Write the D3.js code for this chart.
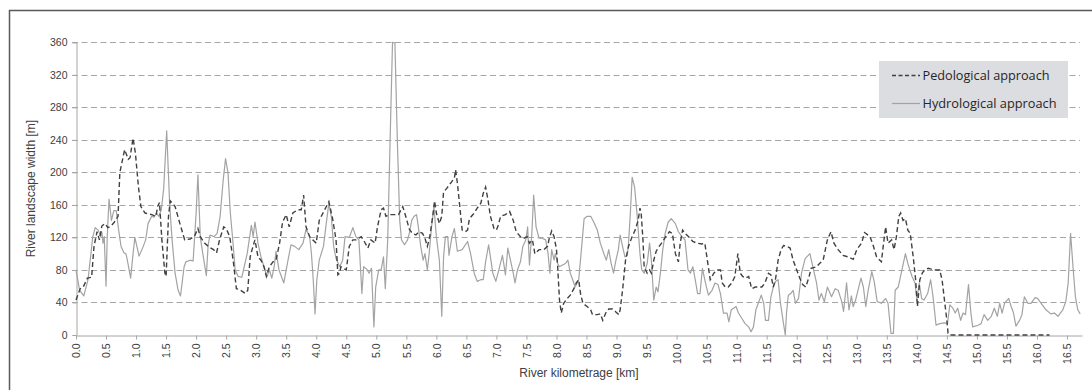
<!DOCTYPE html>
<html><head><meta charset="utf-8">
<script src="https://cdn.jsdelivr.net/npm/d3@7"></script>
<style>body{margin:0;background:#fff}svg{display:block}</style>
</head><body>
<svg id="c" width="1092" height="390"></svg>
<script>
// ---- data (km, width in m) ----
const xTicks = [0.0,0.5,1.0,1.5,2.0,2.5,3.0,3.5,4.0,4.5,5.0,5.5,6.0,6.5,7.0,7.5,8.0,8.5,9.0,9.5,10.0,10.5,11.0,11.5,12.0,12.5,13.0,13.5,14.0,14.5,15.0,15.5,16.0,16.5];
const yTicks = [0,40,80,120,160,200,240,280,320,360];
const seriesNames = ["Pedological approach","Hydrological approach"];

const pedological = [[0,43],[0.07,57],[0.12,59],[0.19,70],[0.26,71],[0.3,109],[0.35,127],[0.39,117],[0.43,134],[0.48,137],[0.53,132],[0.58,134],[0.63,138],[0.7,146],[0.73,200],[0.81,228],[0.87,216],[0.9,218],[0.92,228],[0.95,242],[0.99,223],[1.04,182],[1.08,158],[1.15,150],[1.26,148],[1.33,146],[1.36,158],[1.39,163],[1.43,117],[1.48,76],[1.5,72],[1.54,146],[1.57,165],[1.65,158],[1.73,137],[1.81,117],[1.9,118],[1.97,121],[2.03,131],[2.07,121],[2.14,113],[2.22,108],[2.29,105],[2.34,101],[2.39,117],[2.46,133],[2.5,131],[2.56,121],[2.62,90],[2.67,57],[2.72,56],[2.82,51],[2.86,55],[2.9,96],[2.95,110],[2.98,117],[3.03,96],[3.08,92],[3.13,84],[3.17,72],[3.22,84],[3.28,90],[3.33,92],[3.39,113],[3.44,139],[3.5,148],[3.55,133],[3.61,150],[3.69,154],[3.75,154],[3.79,172],[3.83,133],[3.89,121],[3.94,117],[4.0,113],[4.05,141],[4.14,154],[4.21,164],[4.27,144],[4.33,117],[4.36,74],[4.39,76],[4.41,84],[4.5,80],[4.55,109],[4.61,117],[4.66,117],[4.75,121],[4.8,115],[4.86,107],[4.91,117],[4.98,113],[5.02,133],[5.08,154],[5.12,156],[5.16,146],[5.22,148],[5.3,148],[5.37,148],[5.44,158],[5.49,146],[5.55,130],[5.6,125],[5.66,123],[5.71,127],[5.77,125],[5.81,119],[5.85,109],[5.89,121],[5.94,146],[5.97,165],[6.0,150],[6.05,137],[6.09,146],[6.12,176],[6.17,180],[6.21,184],[6.26,189],[6.3,193],[6.32,203],[6.35,187],[6.39,158],[6.43,129],[6.48,127],[6.52,129],[6.55,143],[6.63,150],[6.68,156],[6.74,162],[6.78,174],[6.82,182],[6.86,166],[6.9,146],[6.96,131],[7.0,129],[7.03,135],[7.07,146],[7.15,148],[7.22,152],[7.28,141],[7.33,127],[7.4,121],[7.46,119],[7.51,121],[7.55,113],[7.6,117],[7.64,100],[7.71,105],[7.79,105],[7.85,109],[7.88,119],[7.92,128],[7.96,121],[8.0,105],[8.02,84],[8.05,43],[8.08,27],[8.12,39],[8.18,45],[8.23,49],[8.29,57],[8.33,64],[8.37,68],[8.4,51],[8.44,39],[8.51,35],[8.57,31],[8.6,25],[8.68,25],[8.73,26],[8.77,18],[8.82,27],[8.87,32],[8.93,32],[8.98,29],[9.04,25],[9.06,31],[9.1,55],[9.15,92],[9.2,109],[9.26,121],[9.31,129],[9.36,141],[9.39,156],[9.41,150],[9.44,117],[9.46,84],[9.51,76],[9.55,80],[9.58,76],[9.62,92],[9.66,103],[9.71,109],[9.77,115],[9.82,121],[9.88,127],[9.93,125],[9.98,100],[10.03,90],[10.06,113],[10.1,129],[10.14,125],[10.2,121],[10.27,115],[10.34,113],[10.42,112],[10.47,113],[10.52,88],[10.56,68],[10.62,76],[10.67,80],[10.73,80],[10.76,64],[10.81,59],[10.86,59],[10.92,64],[10.97,72],[11.02,100],[11.06,76],[11.1,72],[11.15,70],[11.2,72],[11.25,57],[11.31,59],[11.36,59],[11.42,59],[11.47,64],[11.53,76],[11.57,74],[11.61,59],[11.65,70],[11.69,92],[11.74,105],[11.78,110],[11.83,109],[11.89,107],[11.94,92],[12.0,80],[12.05,70],[12.1,62],[12.15,59],[12.2,70],[12.24,82],[12.33,84],[12.38,88],[12.44,92],[12.51,117],[12.57,127],[12.62,113],[12.69,105],[12.77,98],[12.86,96],[12.94,93],[13.0,105],[13.08,113],[13.13,126],[13.22,121],[13.27,111],[13.33,96],[13.41,90],[13.44,109],[13.48,133],[13.52,113],[13.58,117],[13.62,105],[13.66,121],[13.7,146],[13.73,150],[13.77,141],[13.81,143],[13.85,129],[13.89,125],[13.94,96],[13.98,68],[14.01,35],[14.05,68],[14.09,76],[14.13,80],[14.19,82],[14.24,81],[14.31,80],[14.38,80],[14.42,68],[14.46,43],[14.5,18],[14.52,2],[14.55,0],[16.21,0]];

const hydrological = [[0,80],[0.06,55],[0.13,48],[0.2,68],[0.28,121],[0.32,132],[0.37,129],[0.41,121],[0.43,127],[0.45,113],[0.47,121],[0.5,60],[0.52,121],[0.55,167],[0.59,141],[0.63,153],[0.67,153],[0.71,129],[0.75,109],[0.8,101],[0.83,100],[0.85,94],[0.91,70],[0.95,100],[0.98,120],[1.05,97],[1.12,109],[1.16,117],[1.2,137],[1.26,146],[1.3,145],[1.34,150],[1.38,146],[1.42,154],[1.46,180],[1.51,251],[1.56,160],[1.6,117],[1.65,76],[1.7,55],[1.74,48],[1.8,84],[1.83,90],[1.9,92],[1.95,91],[2.0,150],[2.03,197],[2.07,120],[2.12,96],[2.17,73],[2.2,110],[2.23,123],[2.3,121],[2.35,125],[2.4,146],[2.45,190],[2.49,217],[2.53,200],[2.57,150],[2.61,117],[2.65,80],[2.7,72],[2.76,71],[2.85,100],[2.92,135],[2.95,121],[2.98,139],[3.03,113],[3.08,96],[3.13,84],[3.18,72],[3.22,80],[3.26,70],[3.3,84],[3.33,103],[3.38,80],[3.42,72],[3.46,64],[3.53,92],[3.58,111],[3.64,109],[3.71,105],[3.78,113],[3.83,130],[3.89,121],[3.92,100],[3.95,68],[3.98,26],[4.01,68],[4.05,92],[4.12,109],[4.16,133],[4.21,162],[4.25,146],[4.29,109],[4.33,94],[4.39,84],[4.44,92],[4.48,121],[4.55,120],[4.61,132],[4.66,121],[4.71,117],[4.73,92],[4.76,51],[4.79,84],[4.84,81],[4.88,76],[4.92,82],[4.96,10],[4.99,59],[5.04,80],[5.08,80],[5.12,96],[5.15,57],[5.19,117],[5.23,240],[5.27,360],[5.31,359],[5.35,240],[5.39,141],[5.42,117],[5.47,111],[5.52,117],[5.55,125],[5.59,141],[5.63,146],[5.67,148],[5.7,133],[5.74,109],[5.78,92],[5.81,100],[5.85,80],[5.88,100],[5.92,133],[5.96,158],[6.0,121],[6.05,92],[6.09,23],[6.12,96],[6.15,121],[6.19,121],[6.21,98],[6.26,121],[6.3,131],[6.35,103],[6.43,105],[6.52,115],[6.57,100],[6.63,76],[6.68,66],[6.74,68],[6.78,68],[6.82,90],[6.87,111],[6.9,96],[6.94,76],[6.99,66],[7.04,80],[7.1,98],[7.13,84],[7.15,74],[7.19,107],[7.24,90],[7.28,76],[7.31,64],[7.35,80],[7.4,90],[7.44,109],[7.49,117],[7.52,133],[7.55,86],[7.59,125],[7.62,172],[7.66,133],[7.71,119],[7.76,119],[7.82,117],[7.86,100],[7.89,76],[7.92,105],[7.96,92],[7.98,100],[8.02,88],[8.05,84],[8.1,86],[8.15,88],[8.19,92],[8.23,76],[8.27,68],[8.31,59],[8.37,68],[8.42,109],[8.46,143],[8.51,146],[8.57,146],[8.62,139],[8.68,129],[8.73,113],[8.79,100],[8.83,92],[8.87,105],[8.91,88],[8.95,76],[8.99,92],[9.03,105],[9.06,123],[9.1,109],[9.14,96],[9.18,98],[9.2,113],[9.23,150],[9.26,194],[9.3,182],[9.34,150],[9.39,100],[9.42,80],[9.46,76],[9.51,88],[9.55,113],[9.58,92],[9.62,43],[9.66,59],[9.69,53],[9.73,76],[9.77,105],[9.81,125],[9.86,139],[9.91,143],[9.98,137],[10.03,127],[10.09,121],[10.14,117],[10.19,80],[10.23,76],[10.27,84],[10.31,68],[10.35,51],[10.39,51],[10.43,82],[10.48,64],[10.53,49],[10.59,55],[10.64,64],[10.69,62],[10.73,51],[10.78,27],[10.84,27],[10.87,16],[10.91,31],[10.95,33],[10.99,35],[11.03,27],[11.09,20],[11.14,14],[11.2,10],[11.24,4],[11.28,10],[11.32,31],[11.36,39],[11.41,49],[11.45,39],[11.48,18],[11.53,18],[11.57,47],[11.61,59],[11.65,66],[11.69,68],[11.73,39],[11.78,14],[11.81,0],[11.83,27],[11.86,49],[11.9,51],[11.94,55],[11.98,39],[12.03,45],[12.08,76],[12.14,94],[12.22,100],[12.28,80],[12.33,64],[12.37,43],[12.41,51],[12.46,41],[12.51,59],[12.58,47],[12.64,57],[12.69,55],[12.75,41],[12.78,29],[12.83,64],[12.87,31],[12.91,48],[12.94,35],[12.98,43],[13.02,55],[13.07,70],[13.11,59],[13.15,35],[13.19,55],[13.25,78],[13.29,66],[13.34,41],[13.41,39],[13.48,45],[13.52,39],[13.57,2],[13.61,2],[13.64,55],[13.69,59],[13.74,76],[13.81,100],[13.85,88],[13.92,72],[13.97,64],[14.0,43],[14.04,64],[14.08,45],[14.12,43],[14.18,51],[14.23,68],[14.27,47],[14.32,12],[14.38,14],[14.46,15],[14.51,14],[14.55,37],[14.6,33],[14.64,27],[14.68,33],[14.73,18],[14.77,27],[14.81,25],[14.86,62],[14.9,27],[14.93,10],[15.02,12],[15.07,14],[15.12,25],[15.18,18],[15.24,23],[15.29,33],[15.34,23],[15.38,39],[15.42,27],[15.46,39],[15.53,45],[15.57,35],[15.61,27],[15.65,11],[15.71,18],[15.75,25],[15.79,47],[15.85,39],[15.9,39],[15.97,46],[16.01,45],[16.07,39],[16.15,31],[16.23,26],[16.29,27],[16.35,23],[16.43,31],[16.48,41],[16.52,64],[16.56,125],[16.6,84],[16.64,47],[16.68,31],[16.72,26]];

(function () {
const svg = d3.select("#c");
const W = 1092, H = 390;
const mLeft = 76, mRight = 1082, mTop = 42.3, mBottom = 335;
const x = d3.scaleLinear().domain([0, 16.75]).range([mLeft, mRight]);
const y = d3.scaleLinear().domain([0, 360]).range([mBottom, mTop]);
const font = "'Liberation Sans', Arial, sans-serif";

// outer frame
svg.append("rect").attr("x", 9.5).attr("y", 10.5).attr("width", W).attr("height", H)
  .attr("fill", "none").attr("stroke", "#5a5a5a").attr("stroke-width", 1.5);

// gridlines
svg.append("g").selectAll("line").data(yTicks.filter(d => d > 0)).join("line")
  .attr("x1", mLeft - 4).attr("x2", 1080)
  .attr("y1", d => Math.round(y(d)) + 0.5).attr("y2", d => Math.round(y(d)) + 0.5)
  .attr("stroke", "#a6a6a6").attr("stroke-width", 1).attr("stroke-dasharray", "6,3.5");

// y axis
const yAxis = svg.append("g").attr("transform", `translate(${mLeft + 0.5},0)`)
  .call(d3.axisLeft(y).tickValues(yTicks).tickSize(4).tickPadding(5).tickFormat(d3.format("d")));
yAxis.select(".domain").attr("stroke", "#a6a6a6");
yAxis.selectAll(".tick line").attr("stroke", "#a6a6a6");
yAxis.selectAll(".tick text").attr("font-family", font).attr("font-size", 10.5).attr("fill", "#404040");

// x axis
const xAxis = svg.append("g").attr("transform", `translate(0,${Math.round(mBottom) + 0.5})`)
  .call(d3.axisBottom(x).tickValues(xTicks).tickSize(4).tickSizeOuter(0).tickFormat(d3.format(".1f")));
xAxis.select(".domain").attr("stroke", "#a6a6a6");
xAxis.selectAll(".tick line").attr("stroke", "#a6a6a6");
xAxis.selectAll(".tick text")
  .attr("font-family", font).attr("font-size", 10.5).attr("fill", "#404040")
  .attr("transform", "rotate(-90)").attr("text-anchor", "end")
  .attr("x", -8).attr("y", 0).attr("dy", "0.35em");

// axis titles
svg.append("text").attr("x", (mLeft + mRight) / 2).attr("y", 377).attr("text-anchor", "middle")
  .attr("font-family", font).attr("font-size", 12).attr("fill", "#404040").text("River kilometrage [km]");
svg.append("text").attr("transform", `translate(35,${(mTop + mBottom) / 2}) rotate(-90)`).attr("text-anchor", "middle")
  .attr("font-family", font).attr("font-size", 12).attr("fill", "#404040").text("River landscape width [m]");

// lines
const line = d3.line().x(d => x(d[0])).y(d => y(d[1]));
svg.append("path").datum(hydrological).attr("d", line)
  .attr("fill", "none").attr("stroke", "#a3a3a3").attr("stroke-width", 1.2).attr("stroke-linejoin", "round");
svg.append("path").datum(pedological).attr("d", line)
  .attr("fill", "none").attr("stroke", "#404040").attr("stroke-width", 1.4).attr("stroke-dasharray", "5,3");

// legend
const lg = svg.append("g");
lg.append("rect").attr("x", 879).attr("y", 61).attr("width", 189).attr("height", 57).attr("fill", "#dcdde0");
const legendItems = [
  {name: seriesNames[0], y: 75.5, stroke: "#404040", dash: "4,2.5", w: 1.4, len: 127},
  {name: seriesNames[1], y: 103.5, stroke: "#a3a3a3", dash: null, w: 1.2, len: 134}
];
legendItems.forEach(it => {
  lg.append("line").attr("x1", 892).attr("x2", 920).attr("y1", it.y).attr("y2", it.y)
    .attr("stroke", it.stroke).attr("stroke-width", it.w).attr("stroke-dasharray", it.dash);
  lg.append("text").attr("x", 922.5).attr("y", it.y + 4.5)
    .attr("font-family", "'Open Sans', 'Noto Sans', sans-serif").attr("font-size", 12.5).attr("fill", "#262626")
    .attr("textLength", it.len).attr("lengthAdjust", "spacingAndGlyphs").text(it.name);
});
})();
</script>
</body></html>
